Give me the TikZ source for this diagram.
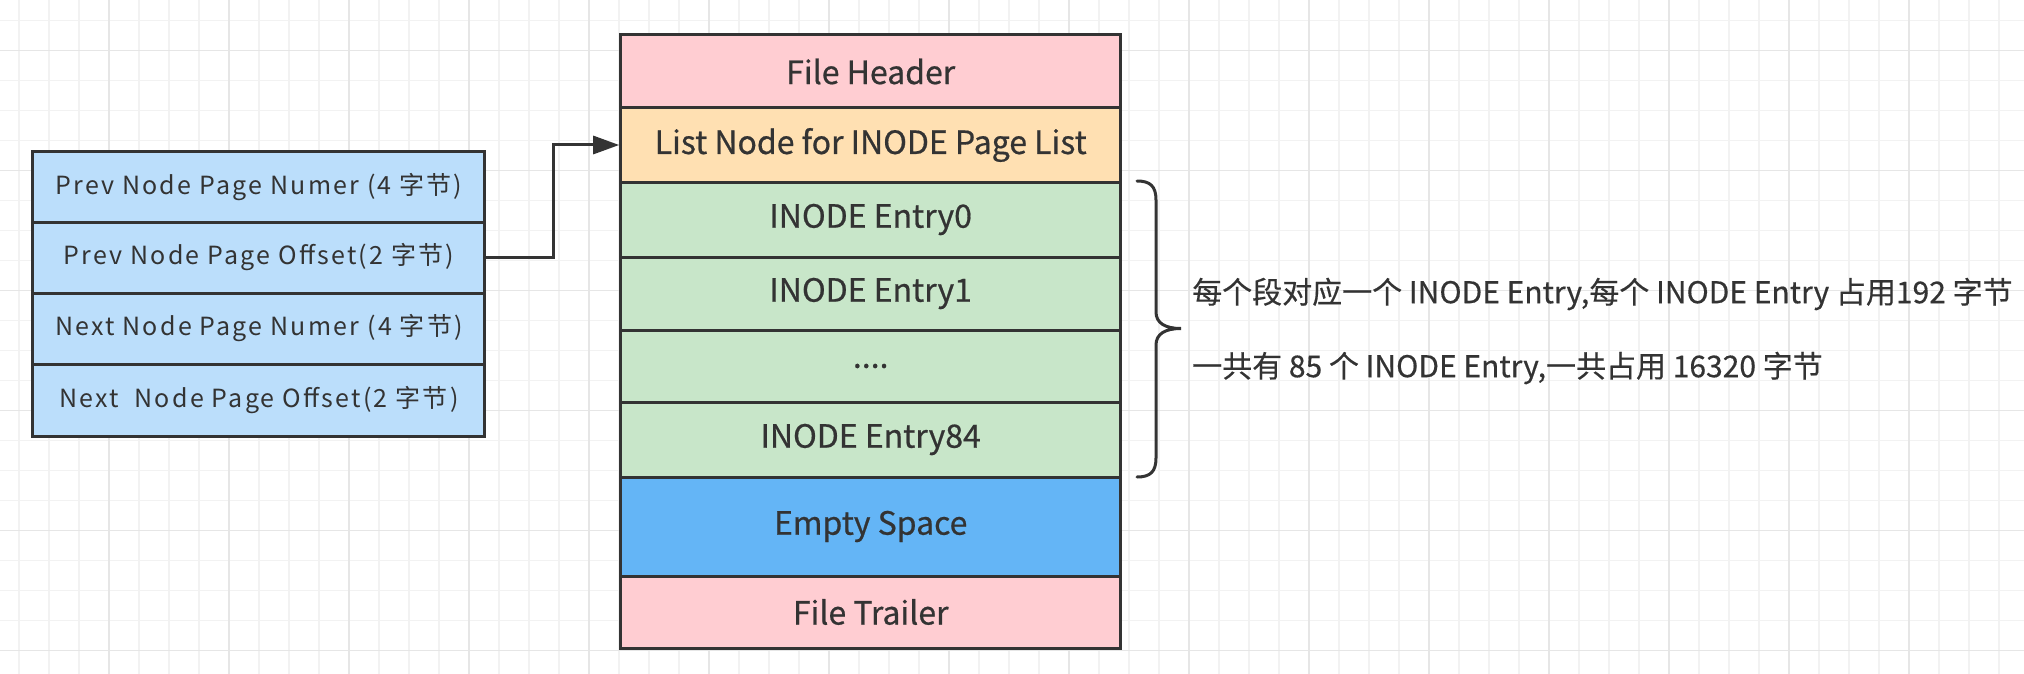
\documentclass[tikz,border=0pt]{standalone}
\usepackage{fontspec}
\setmainfont{Noto Sans CJK SC}
\newfontfamily\medfont{Noto Sans CJK SC}[FakeBold=0.6]
\newfontfamily\notefont{Noto Sans CJK SC}[FakeBold=0.4]
\newfontfamily\fieldfont{Noto Sans CJK SC}[LetterSpace=9]
\usetikzlibrary{arrows.meta}
\definecolor{ink}{HTML}{333333}
\definecolor{gridminor}{HTML}{F2F2F2}
\definecolor{gridmajor}{HTML}{E6E6E6}
\definecolor{cblue}{HTML}{BBDEFB}
\definecolor{cpink}{HTML}{FFCDD2}
\definecolor{corange}{HTML}{FFE0B2}
\definecolor{cgreen}{HTML}{C8E6C9}
\definecolor{cempty}{HTML}{64B5F6}
\tikzset{
  rowbox/.style={draw=ink, line width=3pt, inner sep=0pt, minimum width=500pt, text=ink,
    font=\medfont\fontsize{32}{38}\selectfont},
  fieldbox/.style={draw=ink, line width=3pt, inner sep=0pt, fill=cblue, minimum width=452pt,
    text=ink, font=\fieldfont\fontsize{25}{30}\selectfont},
  conn/.style={draw=ink, line width=3pt, -{Triangle[length=26pt,width=18pt]}},
  note/.style={anchor=west, inner sep=0pt, text=ink, font=\notefont\fontsize{30}{36}\selectfont},
}
\begin{document}
\begin{tikzpicture}[x=1pt, y=-1pt]
\useasboundingbox (0,0) rectangle (2024,674);
\fill[white] (0,0) rectangle (2024,674);
% background grid
\foreach \gx in {19,49,...,2024} \draw[gridminor, line width=1.5pt] (\gx,0) -- (\gx,674);
\foreach \gy in {20.7,50.7,...,674} \draw[gridminor, line width=1.5pt] (0,\gy) -- (2024,\gy);
\foreach \gx in {109,229,...,2024} \draw[gridmajor, line width=1.5pt] (\gx,0) -- (\gx,674);
\foreach \gy in {50.7,170.7,...,674} \draw[gridmajor, line width=1.5pt] (0,\gy) -- (2024,\gy);
% main page stack
\node[rowbox, fill=cpink,   minimum height=73pt] (fh)  at (870.7,71.5)  {File Header};
\node[rowbox, fill=corange, minimum height=74pt] (ln)  at (870.7,145)   {List Node for INODE Page List};
\node[rowbox, fill=cgreen,  minimum height=75pt] (e0)  at (870.7,219.5) {INODE Entry0};
\node[rowbox, fill=cgreen,  minimum height=73pt] (e1)  at (870.7,293.5) {INODE Entry1};
\node[rowbox, fill=cgreen,  minimum height=72pt] (ed)  at (870.7,366)   {....};
\node[rowbox, fill=cgreen,  minimum height=75pt] (e84) at (870.7,439.5) {INODE Entry84};
\node[rowbox, fill=cempty,  minimum height=99pt] (es)  at (870.7,526.5) {Empty Space};
\node[rowbox, fill=cpink,   minimum height=72pt] (ft)  at (870.7,612)   {File Trailer};
% list node fields
\node[fieldbox, minimum height=70pt] (lb1) at (258.9,187)   {Prev Node Page Numer (4 字节)};
\node[fieldbox, minimum height=71pt] (lb2) at (258.9,257.5) {Prev Node Page Offset(2 字节)};
\node[fieldbox, minimum height=71pt] (lb3) at (258.9,328.5) {Next Node Page Numer (4 字节)};
\node[fieldbox, minimum height=72pt] (lb4) at (258.9,400)   {Next\ \ Node Page Offset(2 字节)};
% connector
\coordinate (bend) at (553,257.5);
\draw[conn] (lb2.east) -- (bend) |- (ln.west);
% brace
\draw[ink, line width=3pt, line cap=round]
  (1137,181) .. controls (1150,181) and (1156,186) .. (1156,200)
  -- (1156,312) .. controls (1156,323) and (1165,328.5) .. (1181,328.5)
  .. controls (1165,328.5) and (1156,334) .. (1156,345)
  -- (1156,458) .. controls (1156,472) and (1150,477) .. (1137,477);
% notes
\node[note] (n1) at (1192,294) {每个段对应一个 INODE Entry,每个 INODE Entry 占用192 字节};
\node[note] (n2) at (1192,368) {一共有 85 个 INODE Entry,一共占用 16320 字节};
\end{tikzpicture}
\end{document}
